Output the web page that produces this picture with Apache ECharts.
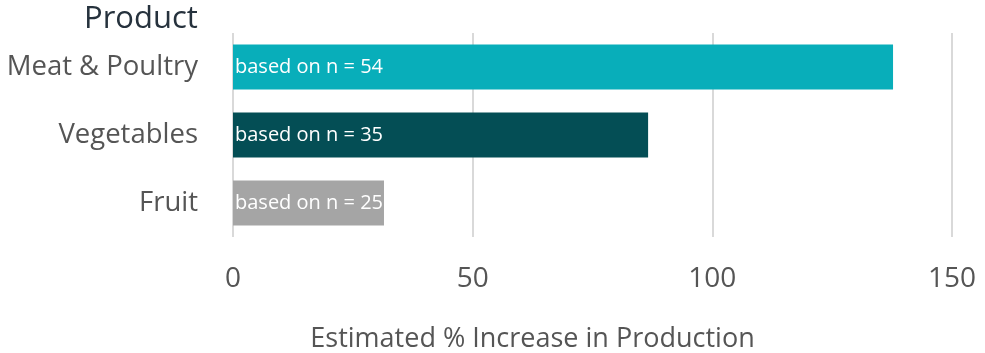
<!DOCTYPE html>
<html>
<head>
<meta charset="utf-8">
<script src="https://cdn.jsdelivr.net/npm/echarts@6/dist/echarts.min.js"></script>
<style>html,body{margin:0;padding:0;background:#fff}#c{width:985px;height:353px}</style>
</head>
<body>
<div id="c"></div>
<script>
const categories = ['Meat & Poultry', 'Vegetables', 'Fruit'];
const values = [137.7, 86.6, 31.5];
const sampleSizes = [54, 35, 25];
const barColors = ['#08AEBA', '#044E55', '#A5A5A5'];
const xTicks = [0, 50, 100, 150];

const chart = echarts.init(document.getElementById('c'));
chart.setOption({
  animation: false,
  textStyle: { fontFamily: 'Open Sans' },
  graphic: [{
    type: 'text', left: 84, top: 4,
    style: { text: 'Product', fontSize: 31, fill: '#26323d', fontFamily: 'Open Sans' }
  }],
  grid: { left: 233, right: 33, top: 33, bottom: 116, containLabel: false, outerBoundsMode: 'none' },
  xAxis: {
    type: 'value', min: xTicks[0], max: xTicks[xTicks.length - 1], interval: 50,
    name: 'Estimated % Increase in Production', nameLocation: 'middle', nameGap: 89,
    nameTextStyle: { fontSize: 27, color: '#555', fontFamily: 'Open Sans', padding: [0, 120, 0, 0] },
    axisLine: { show: false }, axisTick: { show: false },
    axisLabel: { fontSize: 28, color: '#555', margin: 28, fontFamily: 'Open Sans' },
    splitLine: { show: true, lineStyle: { color: '#d9d9d9', width: 2 } }
  },
  yAxis: {
    type: 'category', data: categories, inverse: true,
    axisLine: { show: false }, axisTick: { show: false },
    axisLabel: { fontSize: 27.5, color: '#555', margin: 35, fontFamily: 'Open Sans' }
  },
  series: [{
    type: 'bar',
    data: values.map((v, i) => ({ value: v, itemStyle: { color: barColors[i] } })),
    barCategoryGap: '34%',
    label: {
      show: true, position: 'insideLeft', offset: [-3, 0], color: '#fff', fontSize: 20,
      fontFamily: 'Open Sans',
      formatter: p => 'based on n = ' + sampleSizes[p.dataIndex]
    }
  }]
});
</script>
</body>
</html>
